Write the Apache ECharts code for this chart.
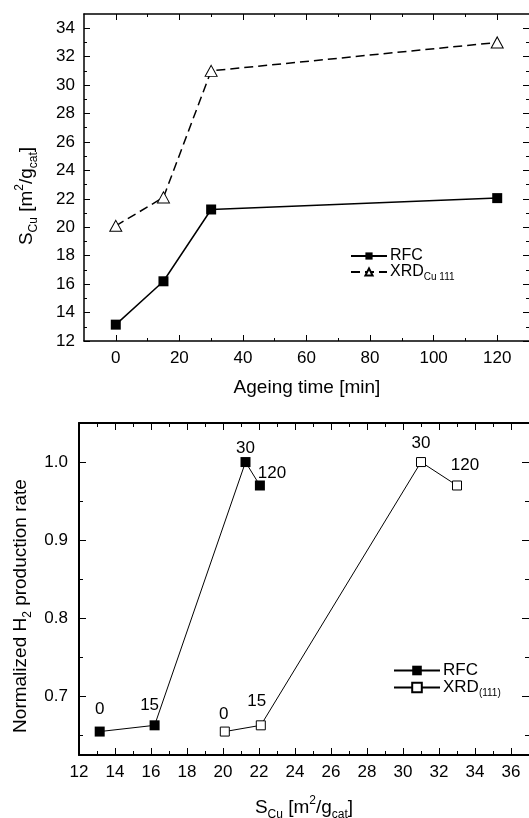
<!DOCTYPE html>
<html>
<head>
<meta charset="utf-8">
<script src="https://cdn.jsdelivr.net/npm/echarts@6/dist/echarts.min.js"></script>
<style>
  html, body { margin: 0; padding: 0; background: #fff; }
  #chart { width: 529px; height: 818px; }
</style>
</head>
<body>
<div id="chart"></div>
<script>
// ageing time and Cu surface area (top panel), H2 rate vs S_Cu (bottom panel)
const ageingTime = [0, 15, 30, 120]
const sCuRfc = [13.15, 16.2, 21.25, 22.05]
const sCuXrd = [20.1, 22.1, 31.0, 33.0]
const rateRfc = [0.655, 0.663, 1.0, 0.97]
const rateXrd = [0.655, 0.663, 1.0, 0.97]

const topXTicks = [0, 20, 40, 60, 80, 100, 120]
const topXMinor = [10, 30, 50, 70, 90, 110]
const topYTicks = [12, 14, 16, 18, 20, 22, 24, 26, 28, 30, 32, 34]
const topYMinor = [13, 15, 17, 19, 21, 23, 25, 27, 29, 31, 33]
const botXTicks = [12, 14, 16, 18, 20, 22, 24, 26, 28, 30, 32, 34, 36]
const botXMinor = [13, 15, 17, 19, 21, 23, 25, 27, 29, 31, 33, 35]
const botYTicks = [0.7, 0.8, 0.9, 1.0]
const botYMinor = [0.65, 0.75, 0.85, 0.95]

// label offsets (px) for the ageing-time annotations in the bottom panel
const rfcLabelOffset = [[0, -22], [-5, -20], [0, -14], [12, -12]]
const xrdLabelOffset = [[-1, -17], [-4, -24], [0, -19], [8, -20]]

const font = 'Liberation Sans, Arial, sans-serif'
const chart = echarts.init(document.getElementById('chart'))

const makeAxis = (o) => ({
  type: 'value',
  gridIndex: o.grid,
  position: o.pos,
  min: o.min,
  max: o.max,
  axisLine: { show: !!o.line, onZero: false, lineStyle: { color: '#000', width: o.lw || 1.5 } },
  axisTick: { show: true, inside: true, length: o.len, customValues: o.ticks, lineStyle: { color: '#000', width: 1 } },
  axisLabel: o.label
    ? { show: true, customValues: o.ticks, margin: o.margin, color: '#000', fontFamily: font, fontSize: 17, formatter: o.fmt }
    : { show: false },
  splitLine: { show: false }
})

const xAxes = [
  // top panel
  makeAxis({ grid: 0, pos: 'bottom', min: -10, max: 130, ticks: topXTicks, len: 6, line: true, label: true, margin: 9 }),
  makeAxis({ grid: 0, pos: 'bottom', min: -10, max: 130, ticks: topXMinor, len: 3 }),
  makeAxis({ grid: 0, pos: 'top', min: -10, max: 130, ticks: topXTicks, len: 6, line: true }),
  makeAxis({ grid: 0, pos: 'top', min: -10, max: 130, ticks: topXMinor, len: 3 }),
  // bottom panel
  makeAxis({ grid: 1, pos: 'bottom', min: 12, max: 37, ticks: botXTicks, len: 7, line: true, lw: 2, label: true, margin: 9 }),
  makeAxis({ grid: 1, pos: 'bottom', min: 12, max: 37, ticks: botXMinor, len: 4 }),
  makeAxis({ grid: 1, pos: 'top', min: 12, max: 37, ticks: botXTicks, len: 7, line: true, lw: 2 }),
  makeAxis({ grid: 1, pos: 'top', min: 12, max: 37, ticks: botXMinor, len: 4 })
]

// right spines fall just outside the picture, only their ticks show
const yAxes = [
  makeAxis({ grid: 0, pos: 'left', min: 12, max: 35, ticks: topYTicks, len: 6, line: true, label: true, margin: 9 }),
  makeAxis({ grid: 0, pos: 'left', min: 12, max: 35, ticks: topYMinor, len: 3 }),
  makeAxis({ grid: 0, pos: 'right', min: 12, max: 35, ticks: topYTicks, len: 6 }),
  makeAxis({ grid: 0, pos: 'right', min: 12, max: 35, ticks: topYMinor, len: 3 }),
  makeAxis({ grid: 1, pos: 'left', min: 0.625, max: 1.05, ticks: botYTicks, len: 7, line: true, lw: 2, label: true, margin: 11, fmt: v => v.toFixed(1) }),
  makeAxis({ grid: 1, pos: 'left', min: 0.625, max: 1.05, ticks: botYMinor, len: 4 }),
  makeAxis({ grid: 1, pos: 'right', min: 0.625, max: 1.05, ticks: botYTicks, len: 7 }),
  makeAxis({ grid: 1, pos: 'right', min: 0.625, max: 1.05, ticks: botYMinor, len: 4 })
]

const zip = (xs, ys) => xs.map((x, i) => [x, ys[i]])

const withLabels = (xs, ys, offsets) => xs.map((x, i) => ({
  value: [x, ys[i]],
  label: { formatter: String(ageingTime[i]), offset: offsets[i] }
}))

const pointLabel = {
  show: true,
  position: 'inside',
  color: '#000',
  fontFamily: font,
  fontSize: 17
}

const rich = {
  n: { fontFamily: font, fontSize: 19, color: '#000', lineHeight: 26, verticalAlign: 'middle' },
  s: { fontFamily: font, fontSize: 12, color: '#000', lineHeight: 12, verticalAlign: 'bottom' },
  p: { fontFamily: font, fontSize: 12, color: '#000', lineHeight: 12, verticalAlign: 'top' }
}

const sCuTitle = '{n|S}{s|Cu}{n| [m}{p|2}{n|/g}{s|cat}{n|]}'

const option = {
  animation: false,
  backgroundColor: '#fff',
  grid: [
    { left: 84, top: 14, width: 446, height: 327 },
    { left: 79, top: 423, width: 451, height: 332 }
  ],
  xAxis: xAxes,
  yAxis: yAxes,
  legend: [
    {
      data: ['RFC', 'XRD'],
      orient: 'vertical',
      left: 345,
      top: 243,
      itemWidth: 36,
      itemHeight: 9,
      itemGap: 0,
      selectedMode: false,
      formatter: name => name === 'XRD' ? '{m|XRD}{s|Cu 111}' : '{m|RFC}',
      textStyle: {
        padding: [0, 0, 0, -2],
        rich: {
          m: { fontFamily: font, fontSize: 16, color: '#000', lineHeight: 20, verticalAlign: 'middle' },
          s: { fontFamily: font, fontSize: 10, color: '#000', lineHeight: 10, verticalAlign: 'bottom' }
        }
      }
    },
    {
      data: ['RFC_b', 'XRD_b'],
      orient: 'vertical',
      left: 388,
      top: 657,
      itemWidth: 46,
      itemHeight: 12,
      itemGap: 0,
      selectedMode: false,
      formatter: name => name === 'XRD_b' ? '{m|XRD}{s|(111)}' : '{m|RFC}',
      textStyle: {
        padding: [0, 0, 0, -2],
        rich: {
          m: { fontFamily: font, fontSize: 17, color: '#000', lineHeight: 22, verticalAlign: 'middle' },
          s: { fontFamily: font, fontSize: 10, color: '#000', lineHeight: 10, verticalAlign: 'bottom' }
        }
      }
    }
  ],
  graphic: [
    { type: 'text', x: 307, y: 388, style: { text: 'Ageing time [min]', font: '19px ' + font, fill: '#000', align: 'center', verticalAlign: 'middle' } },
    { type: 'text', x: 27, y: 196, rotation: Math.PI / 2, style: { text: sCuTitle, rich, align: 'center', verticalAlign: 'middle' } },
    { type: 'text', x: 304, y: 808, style: { text: sCuTitle, rich, align: 'center', verticalAlign: 'middle' } },
    { type: 'text', x: 21, y: 606, rotation: Math.PI / 2, style: { text: '{n|Normalized H}{s|2}{n| production rate}', rich, align: 'center', verticalAlign: 'middle' } }
  ],
  series: [
    {
      name: 'RFC',
      type: 'line',
      xAxisIndex: 0,
      yAxisIndex: 0,
      data: zip(ageingTime, sCuRfc),
      symbol: 'rect',
      symbolSize: 10,
      lineStyle: { color: '#000', width: 1.5 },
      itemStyle: { color: '#000' }
    },
    {
      name: 'XRD',
      type: 'line',
      xAxisIndex: 0,
      yAxisIndex: 0,
      data: zip(ageingTime, sCuXrd),
      symbol: 'triangle',
      symbolSize: [12, 11],
      lineStyle: { color: '#000', width: 1.5, type: [9, 5] },
      itemStyle: { color: '#fff', borderColor: '#000', borderWidth: 1 }
    },
    {
      name: 'RFC_b',
      type: 'line',
      xAxisIndex: 4,
      yAxisIndex: 4,
      data: withLabels(sCuRfc, rateRfc, rfcLabelOffset),
      symbol: 'rect',
      symbolSize: 10,
      lineStyle: { color: '#000', width: 1 },
      itemStyle: { color: '#000' },
      label: pointLabel
    },
    {
      name: 'XRD_b',
      type: 'line',
      xAxisIndex: 4,
      yAxisIndex: 4,
      data: withLabels(sCuXrd, rateXrd, xrdLabelOffset),
      symbol: 'rect',
      symbolSize: 9,
      lineStyle: { color: '#000', width: 1 },
      itemStyle: { color: '#fff', borderColor: '#000', borderWidth: 1 },
      label: pointLabel
    }
  ]
}

chart.setOption(option)
window.addEventListener('resize', () => chart.resize())
</script>
</body>
</html>
